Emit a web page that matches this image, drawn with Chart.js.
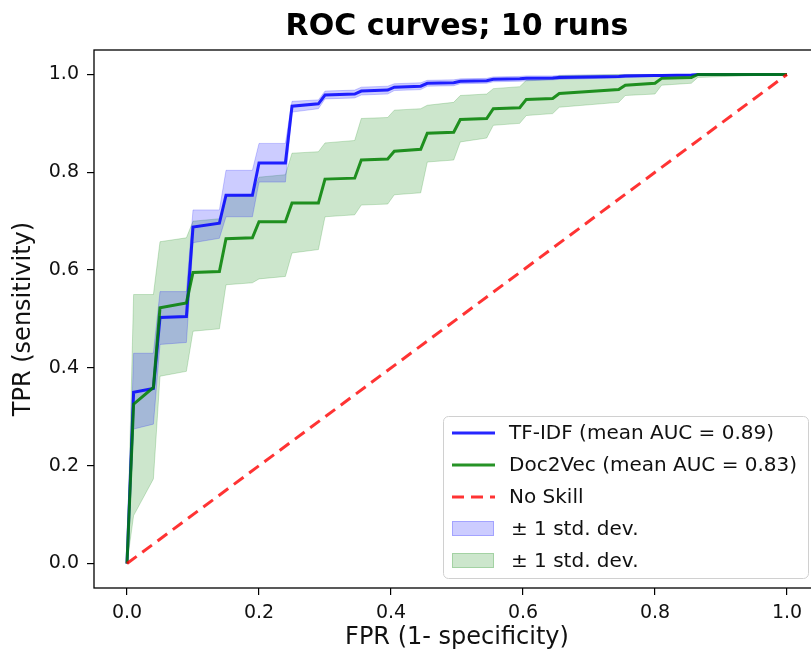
<!DOCTYPE html>
<html>
<head>
<meta charset="utf-8">
<script src="https://cdn.jsdelivr.net/npm/chart.js@4.4.1/dist/chart.umd.min.js"></script>
<style>
    html, body { margin: 0; padding: 0; background: #fff; overflow: hidden; }
    #roc { display: block; }
</style>
</head>
<body>
<!-- canvas is wider than the window so the title centres over the axes and the right spine falls off-screen -->
<canvas id="roc" width="914" height="654"></canvas>
<script>
    // shared FPR grid (mean curves interpolated on it)
    const fpr = [0, 0.01, 0.04, 0.05, 0.09, 0.1, 0.14, 0.15, 0.19, 0.2, 0.24, 0.25, 0.29, 0.3, 0.345, 0.355, 0.395, 0.405,
        0.445, 0.455, 0.495, 0.505, 0.545, 0.555, 0.595, 0.605, 0.645, 0.655, 0.745, 0.755, 0.8, 0.81, 0.855, 0.865, 1.0];

    const tfidfMean = [0, 0.35, 0.358, 0.503, 0.505, 0.688, 0.696, 0.753, 0.753, 0.819, 0.819, 0.935, 0.94, 0.958, 0.96, 0.966, 0.968, 0.974,
        0.976, 0.982, 0.983, 0.986, 0.987, 0.99, 0.991, 0.992, 0.993, 0.994, 0.996, 0.997, 0.998, 0.998, 0.999, 1.0, 1.0];
    const tfidfUpper = [0, 0.43, 0.43, 0.556, 0.556, 0.723, 0.723, 0.804, 0.804, 0.859, 0.859, 0.945, 0.948, 0.966, 0.968, 0.974, 0.976, 0.981,
        0.983, 0.988, 0.989, 0.991, 0.992, 0.995, 0.996, 0.997, 0.997, 0.998, 0.999, 1.0, 1.0, 1.0, 1.0, 1.0, 1.0];
    const tfidfLower = [0, 0.275, 0.285, 0.448, 0.452, 0.656, 0.665, 0.709, 0.709, 0.78, 0.78, 0.923, 0.93, 0.95, 0.952, 0.958, 0.96, 0.967,
        0.969, 0.976, 0.977, 0.981, 0.982, 0.985, 0.986, 0.987, 0.989, 0.99, 0.993, 0.994, 0.996, 0.996, 0.998, 1.0, 1.0];

    const d2vMean = [0, 0.326, 0.36, 0.523, 0.533, 0.595, 0.597, 0.664, 0.666, 0.699, 0.699, 0.737, 0.737, 0.786, 0.788, 0.825, 0.827, 0.843,
        0.847, 0.88, 0.882, 0.908, 0.91, 0.93, 0.932, 0.949, 0.951, 0.961, 0.969, 0.978, 0.982, 0.992, 0.994, 1.0, 1.0];
    const d2vUpper = [0, 0.55, 0.55, 0.658, 0.666, 0.70, 0.705, 0.75, 0.755, 0.79, 0.795, 0.839, 0.842, 0.86, 0.865, 0.91, 0.912, 0.927,
        0.93, 0.937, 0.943, 0.957, 0.96, 0.971, 0.975, 0.988, 0.99, 0.998, 1.0, 1.0, 1.0, 1.0, 1.0, 1.0, 1.0];
    const d2vLower = [0, 0.098, 0.173, 0.383, 0.393, 0.475, 0.48, 0.57, 0.574, 0.582, 0.587, 0.635, 0.642, 0.709, 0.713, 0.733, 0.735, 0.754,
        0.758, 0.821, 0.825, 0.862, 0.87, 0.896, 0.9, 0.916, 0.92, 0.933, 0.943, 0.957, 0.96, 0.978, 0.982, 0.994, 1.0];

    const noSkillX = [0, 1];
    const noSkillY = [0, 1];

    const xTicks = [0, 0.2, 0.4, 0.6, 0.8, 1.0];
    const yTicks = [0, 0.2, 0.4, 0.6, 0.8, 1.0];

    const legendLabels = ['TF-IDF (mean AUC = 0.89)', 'Doc2Vec (mean AUC = 0.83)', 'No Skill', '\u00b1 1 std. dev.', '\u00b1 1 std. dev.'];

    const FONT = '"DejaVu Sans", Verdana, sans-serif';
    const BLUE = 'rgba(0, 0, 255, 0.85)';
    const GREEN = 'rgba(0, 128, 0, 0.85)';
    const RED = 'rgba(255, 0, 0, 0.8)';
    const BLUE_BAND = 'rgba(0, 0, 255, 0.2)';
    const GREEN_BAND = 'rgba(0, 128, 0, 0.2)';

    const pts = (xs, ys) => xs.map((x, i) => ({ x: x, y: ys[i] }));

    //#region frame + legend drawn like matplotlib
    const framePlugin = {
        id: 'frame',
        afterDraw(chart) {
            const a = chart.chartArea;
            const ctx = chart.ctx;
            ctx.save();
            ctx.strokeStyle = '#000';
            ctx.lineWidth = 1.3;
            ctx.strokeRect(a.left, a.top, a.right - a.left, a.bottom - a.top);
            ctx.restore();
        }
    };

    const legendPlugin = {
        id: 'mplLegend',
        afterDraw(chart) {
            const a = chart.chartArea;
            const ctx = chart.ctx;
            const right = a.right - 12, bottom = a.bottom - 10;
            const left = 443, top = 416;
            ctx.save();
            ctx.beginPath();
            ctx.roundRect(left + 0.5, top + 0.5, right - left, bottom - top, 5);
            ctx.fillStyle = 'rgba(255,255,255,0.8)';
            ctx.fill();
            ctx.strokeStyle = '#d0d0d0';
            ctx.lineWidth = 1;
            ctx.stroke();

            const kinds = [
                { type: 'line', color: BLUE, dash: [] },
                { type: 'line', color: GREEN, dash: [] },
                { type: 'line', color: RED, dash: [12, 7] },
                { type: 'patch', color: BLUE_BAND },
                { type: 'patch', color: GREEN_BAND }
            ];
            ctx.font = '20px ' + FONT;
            ctx.textBaseline = 'middle';
            ctx.textAlign = 'left';
            kinds.forEach((k, i) => {
                const y = top + 17 + i * 32;
                if (k.type === 'line') {
                    ctx.beginPath();
                    ctx.setLineDash(k.dash);
                    ctx.strokeStyle = k.color;
                    ctx.lineWidth = 3;
                    ctx.moveTo(452, y);
                    ctx.lineTo(495, y);
                    ctx.stroke();
                    ctx.setLineDash([]);
                } else {
                    ctx.fillStyle = k.color;
                    ctx.fillRect(452, y - 8, 42, 15);
                    ctx.strokeStyle = k.color;
                    ctx.lineWidth = 1;
                    ctx.strokeRect(452.5, y - 7.5, 41, 14);
                }
                ctx.fillStyle = '#111';
                ctx.fillText(legendLabels[i], i < 3 ? 509 : 511, y + 1);
            });
            ctx.restore();
        }
    };
    //#endregion

    const dataRoc = {
        datasets: [
            { label: legendLabels[0], data: pts(fpr, tfidfMean), borderColor: BLUE, borderWidth: 3, order: 2 },
            { label: legendLabels[1], data: pts(fpr, d2vMean), borderColor: GREEN, borderWidth: 3, order: 1 },
            { label: legendLabels[2], data: pts(noSkillX, noSkillY), borderColor: RED, borderWidth: 3, borderDash: [12, 7], order: 0 },
            { label: 'tfidf upper', data: pts(fpr, tfidfUpper), borderColor: BLUE_BAND, borderWidth: 1, backgroundColor: BLUE_BAND, fill: '+1', order: 3 },
            { label: 'tfidf lower', data: pts(fpr, tfidfLower), borderColor: BLUE_BAND, borderWidth: 1, order: 4 },
            { label: 'd2v upper', data: pts(fpr, d2vUpper), borderColor: GREEN_BAND, borderWidth: 1, backgroundColor: GREEN_BAND, fill: '+1', order: 5 },
            { label: 'd2v lower', data: pts(fpr, d2vLower), borderColor: GREEN_BAND, borderWidth: 1, order: 6 }
        ]
    };

    const tickFont = { family: FONT, size: 19 };

    var configRoc = {
        type: 'line',
        data: dataRoc,
        options: {
            responsive: false,
            animation: false,
            events: [],
            layout: { padding: 0 },
            elements: {
                point: { radius: 0 },
                line: { tension: 0, fill: false }
            },
            scales: {
                x: {
                    type: 'linear',
                    min: -0.05,
                    max: 1.05,
                    afterBuildTicks: s => { s.ticks = xTicks.map(v => ({ value: v })); },
                    afterFit: s => { s.height = 66; },
                    border: { display: false },
                    grid: { drawOnChartArea: false, drawTicks: true, tickLength: 7, color: '#000', lineWidth: 1.2 },
                    ticks: { font: tickFont, color: '#111', padding: 7, maxRotation: 0, callback: v => v.toFixed(1) },
                    title: { display: true, text: 'FPR (1- specificity)', color: '#111', font: { family: FONT, size: 24 }, padding: { top: 0, bottom: 2 } }
                },
                y: {
                    type: 'linear',
                    min: -0.05,
                    max: 1.05,
                    afterBuildTicks: s => { s.ticks = yTicks.map(v => ({ value: v })); },
                    afterFit: s => { s.width = 94; },
                    border: { display: false },
                    grid: { drawOnChartArea: false, drawTicks: true, tickLength: 7, color: '#000', lineWidth: 1.2 },
                    ticks: { font: tickFont, color: '#111', padding: 8, callback: v => v.toFixed(1) },
                    title: { display: true, text: 'TPR (sensitivity)', color: '#111', font: { family: FONT, size: 24 }, padding: { top: 9, bottom: 0 } }
                },
                // empty spacer on the right so the plot stays centred under the title
                ySpacer: {
                    type: 'linear',
                    axis: 'y',
                    position: 'right',
                    min: 0,
                    max: 1,
                    afterFit: s => { s.width = 94; },
                    border: { display: false },
                    grid: { display: false },
                    ticks: { display: false }
                }
            },
            plugins: {
                legend: { display: false },
                tooltip: { enabled: false },
                title: {
                    display: true,
                    text: 'ROC curves; 10 runs',
                    color: '#000',
                    font: { family: FONT, size: 30, weight: 'bold' },
                    padding: { top: 9, bottom: 5 }
                }
            }
        },
        plugins: [framePlugin, legendPlugin]
    };

    const chartRoc = new Chart(document.getElementById('roc'), configRoc);
</script>
</body>
</html>
